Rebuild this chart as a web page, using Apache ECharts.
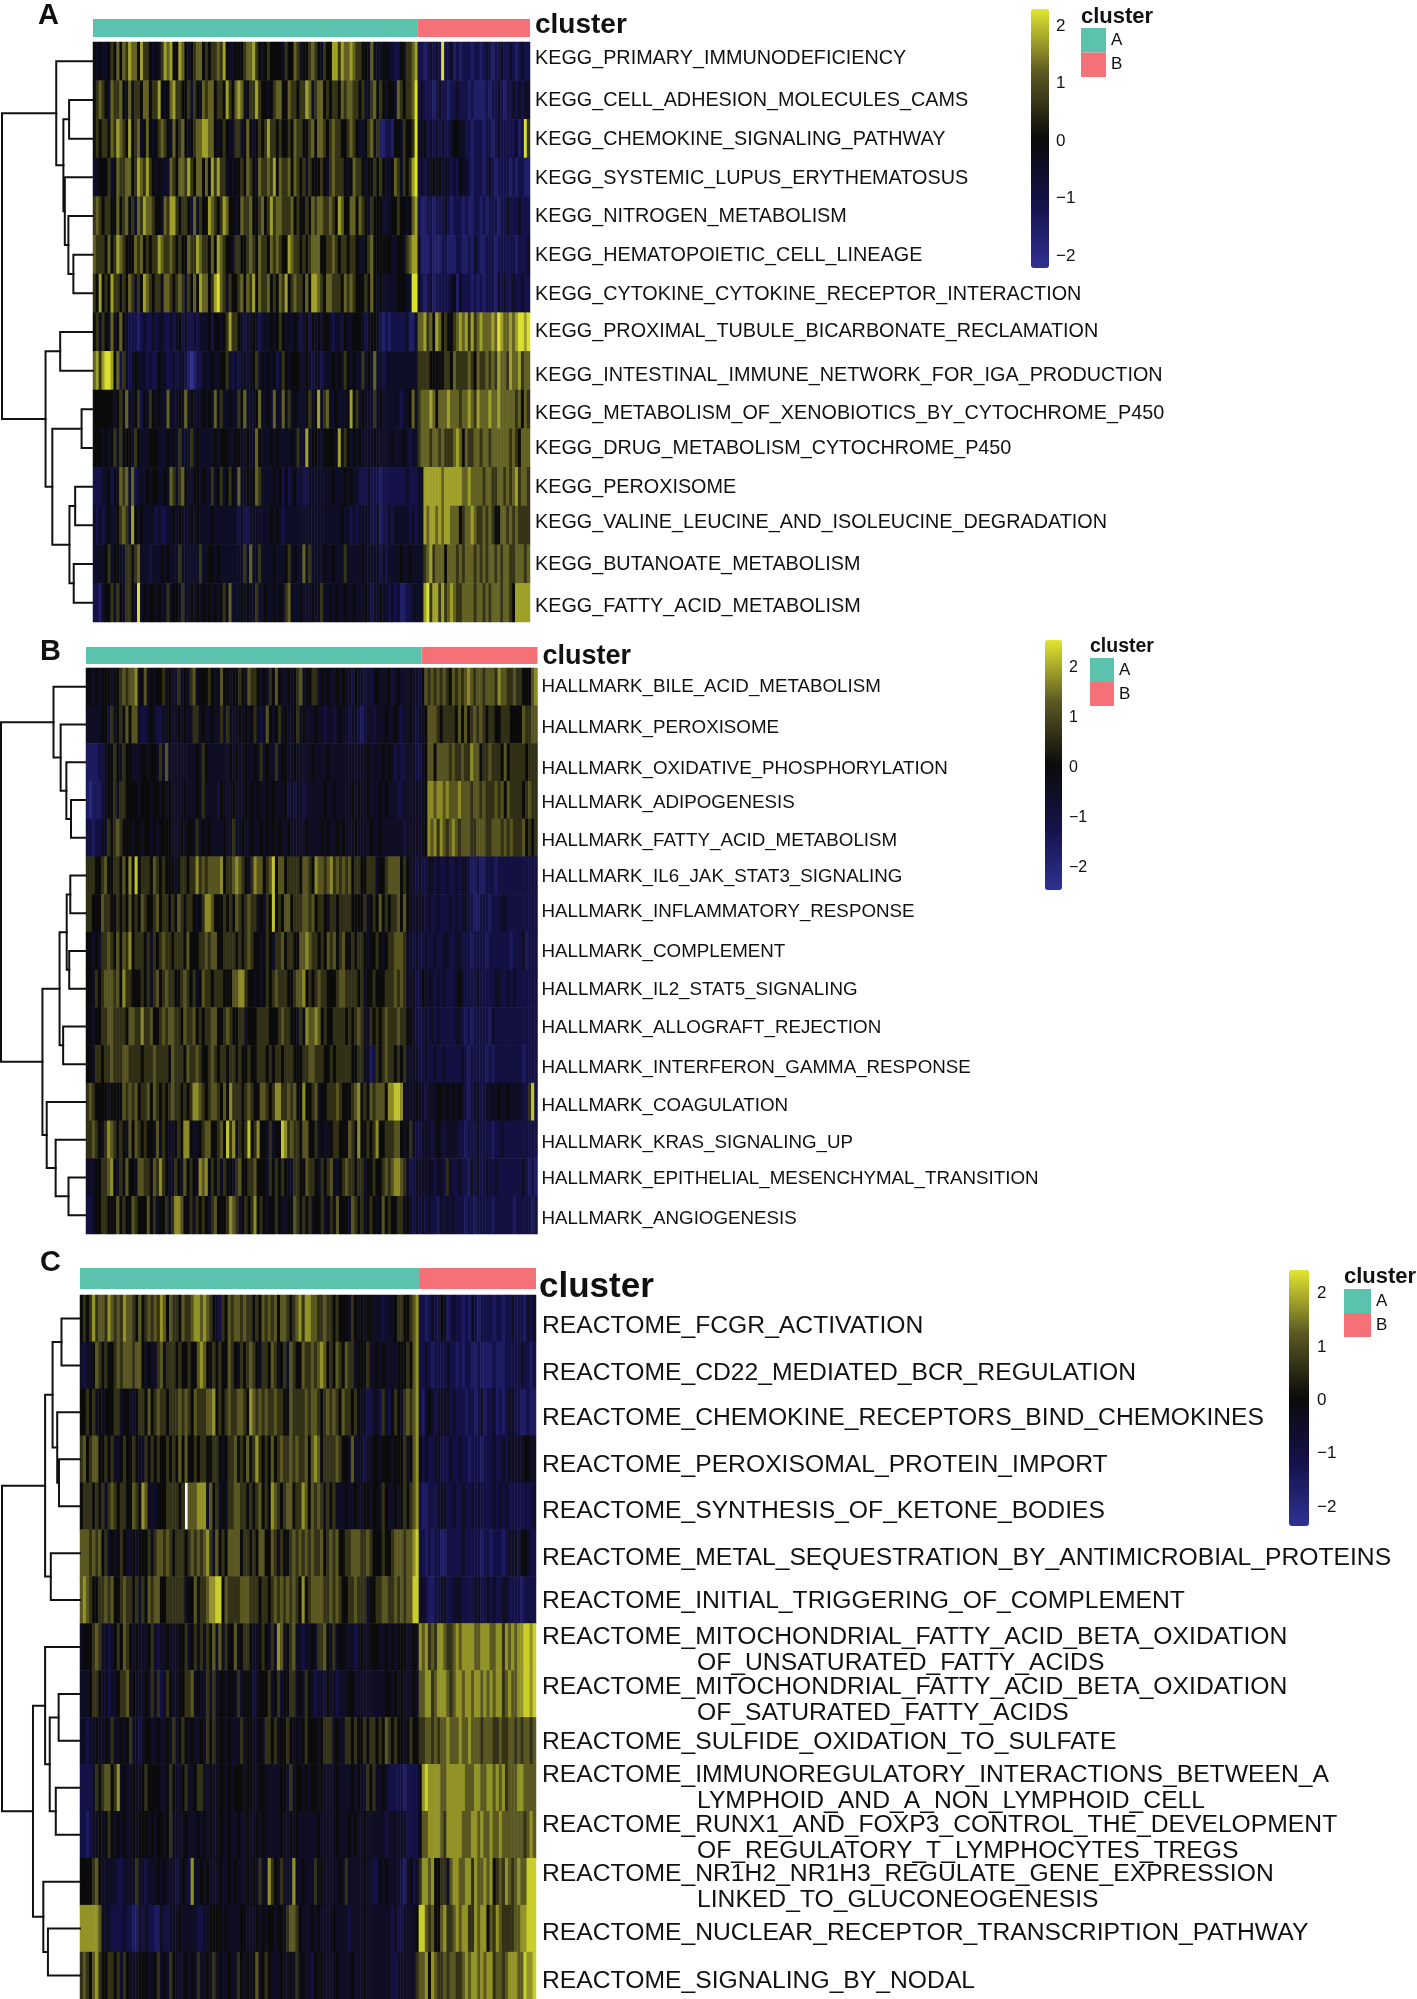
<!DOCTYPE html>
<html>
<head>
<meta charset="utf-8">
<title>cluster heatmaps</title>
<script src="https://cdn.jsdelivr.net/npm/echarts@6/dist/echarts.min.js"></script>
<style>
html,body{margin:0;padding:0;background:#fff;}
#main{width:1417px;height:1999px;}
</style>
</head>
<body>
<div id="main"></div>
<script>
// cell levels: 0 = strongest blue, 4 = black, 8 = strongest yellow, x = empty cell
var levelValues = [-2.2,-1.6,-1.1,-0.5,0,0.6,1.2,1.7,2.2];

var keggLabels = ['KEGG_PRIMARY_IMMUNODEFICIENCY','KEGG_CELL_ADHESION_MOLECULES_CAMS','KEGG_CHEMOKINE_SIGNALING_PATHWAY','KEGG_SYSTEMIC_LUPUS_ERYTHEMATOSUS','KEGG_NITROGEN_METABOLISM','KEGG_HEMATOPOIETIC_CELL_LINEAGE','KEGG_CYTOKINE_CYTOKINE_RECEPTOR_INTERACTION','KEGG_PROXIMAL_TUBULE_BICARBONATE_RECLAMATION','KEGG_INTESTINAL_IMMUNE_NETWORK_FOR_IGA_PRODUCTION','KEGG_METABOLISM_OF_XENOBIOTICS_BY_CYTOCHROME_P450','KEGG_DRUG_METABOLISM_CYTOCHROME_P450','KEGG_PEROXISOME','KEGG_VALINE_LEUCINE_AND_ISOLEUCINE_DEGRADATION','KEGG_BUTANOATE_METABOLISM','KEGG_FATTY_ACID_METABOLISM'];
var keggA = [
'4343345464 6576647554 3435767447 6434566454 5565743344 4566754345 4444354465 3445654354 4775766765 5443633344 3322435567',
'4565436556 4363554664 5574346755 4453543656 6455475467 6345575443 4566446554 5576356645 4554656655 4533564543 4436545568',
'4545546576 5474563464 3456543645 6434566776 6434543355 3464345457 5545445465 5445646654 5655445654 3345635112 2144354458',
'3344453465 5664576575 4343336546 6575466464 7575534344 5465436556 5746556465 4535444543 5655543465 5434454543 3465354578',
'5654554464 5645365766 5443657754 5543635447 6545764434 6556445645 7566555645 4454656655 6547644664 6543544433 3445443467',
'6555464576 5444656454 5576556545 4465576554 6476544355 4456546554 6565447655 4545666445 5654554554 3345644444 4334435677',
'5474547554 5465354765 4553665456 5354647664 5786535445 6465746556 4546574565 5464776546 6555465654 4454643433 3334443388',
'4535436346 4322212322 3233223234 2322323334 2443457554 3233432333 4345433343 2342434344 3233243344 4323443212 1222223113',
'6757887462 5323433323 2243322323 3210122333 4334453232 3333453434 3423543444 3343233233 3434354343 3534363323 3333333333',
'4444444345 4633452435 4343363334 3634333434 3635334335 4633346334 3633635343 3345347356 3343334745 3433353433 3333233463',
'4443434535 4443543334 4433343435 3335343333 3434443344 3343364333 4343333435 3373443344 4437354343 4333343333 3433343233',
'2223342436 5636233343 4433436535 6433443433 5345345436 3343465333 3434242342 3223333333 3433343433 2223222122 2222223222',
'3232343345 6537434333 3232233434 3334343333 4333333332 3223333333 4343233333 3333333333 3333433232 3333223122 3233333232',
'3333453443 3553563332 3334343335 3333335334 4343333333 3536335333 3433345343 3635333343 3433353333 3433333232 3333433433',
'2213445354 3554383434 4343353443 5334343434 3434536333 4343353343 3434356333 4333433533 4343343343 3343233433 2323112233'
];
var keggB = [
'2212323282 2312122212 2123212232 23212322',
'2322212322 1223222121 1112122321 22323233',
'3342323232 2344332212 2212212322 22231285',
'2323343433 3232433212 2212321222 21212211',
'2112212223 2122212112 2121222122 32223222',
'3111211122 1112211213 2112221222 22212223',
'3212312222 2341322212 1212221323 22322322',
'6675647645 4456767575 6766676876 67678878',
'5555444445 5465555654 6556565766 57667566',
'5666764666 7666566765 7666766766 66656465',
'5666566565 5567646556 6566566666 65654666',
'3377777767 7777766766 6656655665 65675665',
'3376776767 7666456676 5565654466 56565555',
'3356756664 6665656665 6565665656 65566656',
'3378577575 6765566665 6656566656 65477777'
];
// merges: [child, child, height]; negative = row number, positive = earlier merge number
var keggMerge = [[-6,-7,55],[-5,1,69],[-2,-3,67],[-4,2,79],[3,4,83],[-1,5,103],[-8,-9,92],[-10,-11,32],[-12,-13,50],[-14,-15,54],[9,10,66],[8,11,114],[7,12,133],[6,13,255]];

var hallmarkLabels = ['HALLMARK_BILE_ACID_METABOLISM','HALLMARK_PEROXISOME','HALLMARK_OXIDATIVE_PHOSPHORYLATION','HALLMARK_ADIPOGENESIS','HALLMARK_FATTY_ACID_METABOLISM','HALLMARK_IL6_JAK_STAT3_SIGNALING','HALLMARK_INFLAMMATORY_RESPONSE','HALLMARK_COMPLEMENT','HALLMARK_IL2_STAT5_SIGNALING','HALLMARK_ALLOGRAFT_REJECTION','HALLMARK_INTERFERON_GAMMA_RESPONSE','HALLMARK_COAGULATION','HALLMARK_KRAS_SIGNALING_UP','HALLMARK_EPITHELIAL_MESENCHYMAL_TRANSITION','HALLMARK_ANGIOGENESIS'];
var hallmarkA = [
'4434344434 4565667346 3434453433 5343563444 5433644344 5436554343 5464334345 6344553434 3343433243 3232343334 2343334332',
'3333344253 4546466322 3432233433 4343355343 3433535333 4343453236 4345343345 3433343323 3234332332 1233233343 3432334323',
'1111223445 4354433344 3443536333 3333334354 3333333434 3343343534 3353443343 3333433334 3333333333 3343333434 3232233322',
'1011123445 3554444344 4344343433 3343334353 3332433343 3343434334 3433342323 3233333343 3433333434 3343334343 3322333333',
'2212233545 6544434434 4343444433 3434435343 4333343353 3433433434 3434334333 3343333434 3343433343 3334334333 3333233333',
'5554456445 5464748455 5465454443 4554557565 6666745567 6543576645 6846645555 4665476656 7565656455 4455534456 6664543323',
'5544465544 5454645465 4456455454 6545543457 7644454546 5456553435 4845466455 5665645543 5545555444 4534546454 5564643333',
'4434355654 6465745554 5354565545 5546444556 5664455554 5456544345 4355645544 6676554546 5645644545 5434454345 5666533232',
'4435456665 6475544454 5356456554 4565453465 5455544466 7754434345 4565554456 6745456554 4456655554 5344544455 5656533322',
'4434455665 5554665575 5644565665 5465564545 5664456544 5534445555 4445655443 5476676454 4555545456 5335454565 5565544322',
'4435545565 5566555545 5565555465 5546556544 5654554554 5445445554 5455455544 4556655544 5455555445 5331254565 5454533332',
'5654444344 4465656455 6465454565 5454577654 5665464755 5456544665 4577556564 4744563445 5565444567 4546566647 7887333343',
'5565435765 4543646545 4436354334 5477433456 6445648573 5458457443 5344875655 4664453433 4554446547 4454574455 5664345322',
'3334455674 3546443665 5465754335 4364543767 4545354435 6445564443 5454543355 4465543545 6334565545 5344544565 6776532233',
'2234455444 6454465444 6453445357 7644535454 3564445765 3454574543 4454334465 4545344534 5364443654 5345434645 4455343232'
];
var hallmarkB = [
'4656565654 6565676566 5666576655 65544467',
'3466654555 5464645656 5455445554 44465566',
'3466466665 6556557664 5565554645 55554555',
'3477677676 6676665665 6555656465 55545655',
'3476757656 7656665566 6556665656 55564545',
'2233232232 2323321121 1222122222 22222222',
'3232232223 2323322112 2212223322 22222222',
'2322322332 2332221222 2122222221 22231222',
'4333232322 2343222232 2222332232 32222222',
'2323232222 2332121222 2213222222 22222222',
'2322322322 2223212222 2121222222 22212222',
'3233344343 4343212332 2333343343 33322582',
'3332343233 3322122232 2221223222 22222222',
'3333233253 2232213232 2322322222 22232121',
'3232213232 3222122122 2221222222 12222212'
];
var hallmarkMerge = [[-4,-5,42],[-3,1,55],[-2,2,71],[-1,3,91],[-6,-7,44],[-8,-9,47],[5,6,54],[-10,-11,64],[7,8,74],[-14,-15,49],[-13,10,85],[-12,11,110],[9,12,122],[4,13,238]];

var reactomeLabels = ['REACTOME_FCGR_ACTIVATION','REACTOME_CD22_MEDIATED_BCR_REGULATION','REACTOME_CHEMOKINE_RECEPTORS_BIND_CHEMOKINES','REACTOME_PEROXISOMAL_PROTEIN_IMPORT','REACTOME_SYNTHESIS_OF_KETONE_BODIES','REACTOME_METAL_SEQUESTRATION_BY_ANTIMICROBIAL_PROTEINS','REACTOME_INITIAL_TRIGGERING_OF_COMPLEMENT','REACTOME_MITOCHONDRIAL_FATTY_ACID_BETA_OXIDATION\nOF_UNSATURATED_FATTY_ACIDS','REACTOME_MITOCHONDRIAL_FATTY_ACID_BETA_OXIDATION\nOF_SATURATED_FATTY_ACIDS','REACTOME_SULFIDE_OXIDATION_TO_SULFATE','REACTOME_IMMUNOREGULATORY_INTERACTIONS_BETWEEN_A\nLYMPHOID_AND_A_NON_LYMPHOID_CELL','REACTOME_RUNX1_AND_FOXP3_CONTROL_THE_DEVELOPMENT\nOF_REGULATORY_T_LYMPHOCYTES_TREGS','REACTOME_NR1H2_NR1H3_REGULATE_GENE_EXPRESSION\nLINKED_TO_GLUCONEOGENESIS','REACTOME_NUCLEAR_RECEPTOR_TRANSCRIPTION_PATHWAY','REACTOME_SIGNALING_BY_NODAL'];
var reactomeA = [
'4545756657 6565766546 4565657646 5546556776 7654325465 6656554546 5656466545 6757766556 5545444354 3434433323 3345544567',
'3233465454 4565666566 4343356355 5454454467 6445454465 4354565435 5465345365 4465565676 4546546553 4445334343 3334445467',
'4454534344 4553443345 5464565545 5565654655 5667454565 5665476565 6556554465 5556566545 6565465545 4332233253 2454356567',
'5645664454 5334544543 3545454454 5464644545 5445543455 6354645754 5464565565 6556467645 5556544363 3323344344 4344453467',
'4555454535 6545544654 7633344455 5545x66677 7364534355 6655454564 5476545664 5576465653 5453334334 3344344354 3343454567',
'6665656453 4345433434 4453566565 4555456565 6753645466 6645545466 4465354456 5656565564 5656445566 6556544454 4566656678',
'6765445565 6445655453 5465664455 5555344635 5677884655 5566655545 5456565656 5474566665 5656544556 5553445566 5565656688',
'3444565332 3454654343 3345323343 3344534535 3546363544 6345543345 4353763456 3323343556 4353443332 3433444334 3434443343',
'3334554332 3345563433 3435352354 3344556343 3535344344 3534442344 4534534455 3435432332 4332333443 3333333334 4343433343',
'3323343343 5334345332 3443343343 5345434334 3545344343 3353443343 5545344543 4345444345 5534335545 4454554546 5454434544',
'2222354566 4573433433 4544443345 4334533455 3343344343 4443443344 3333344353 4434344343 3334333343 4335453343 2222212222',
'2212334345 4343433434 4434344345 3333433343 4343344343 3433433434 3333343343 4333333433 3334333434 3343333332 3333332222',
'4444564333 3322333353 3233343433 3234327334 3433343343 4333434353 3754353337 3343335343 3333435333 3343322434 3333213423',
'7777776333 2222322113 2322113223 3343333322 3344443433 3344333434 3443443566 5433343433 3343333233 3343333333 3232233334',
'5654675445 5453543334 4433453435 4333434353 3435343343 3543434634 5433343343 5343324343 3334333343 3343333333 3223333335'
];
var reactomeB = [
'2212322431 2322121321 2222122122 32221323',
'2232122223 2212122112 1111211122 22232212',
'2134323333 2322212212 3122312123 32211211',
'4232233222 3223221222 1222322323 33334433',
'2112223332 2322322323 2222323232 22222223',
'2212122112 2222322222 1221222123 33244322',
'3321122332 2333222233 2232322332 22212222',
'7675657765 5676777766 7776677576 76778878',
'6677567776 5677677677 6767677567 66778878',
'5566565667 6667667666 5666556556 65656656',
'4787777667 7777766677 6677676756 66776666',
'4667777657 7777666776 7667667666 66665676',
'5776744553 6776677576 6767456576 56766888',
'8865644675 5676775576 7746576555 56677888',
'6674765565 6655676776 7677566567 77668778'
];
var reactomeMerge = [[-1,-2,52],[-4,-5,59],[-3,2,64],[1,3,77],[-6,-7,82],[4,5,98],[-9,-10,60],[-11,-12,68],[7,8,85],[-8,9,98],[-14,-15,90],[-13,11,103],[10,12,132],[6,13,219]];

var tickValues = [-2,-1,0,1,2];
var colorStops = ['#2e3192','#14124a','#0b0b0b','#5a5722','#e1e62f'];
var teal = '#5bc2ae', salmon = '#f47178';
var fontName = '"Liberation Sans", Arial, sans-serif';

var panels = [
  {tag:'A',labels:keggLabels,a:keggA,b:keggB,merge:keggMerge,
   left:93,width:437,annTop:19,annH:18,top:42,height:580,dendLeft:2,labelFont:19.8,labelMargin:5,clusterFont:28,clusterMargin:5,clusterNudge:-3,
   labelNudge:[-3,1,1,1,1,1,1,0,5,4,1,1,-3,1,4],
   range:2.25,barLeft:1031,barTop:9,barW:18,barH:259,tickFont:17,tickMargin:7,
   legLeft:1081,legTop:28,legW:25,legH:24.5,legFont:17,legTitleTop:6,legTitleFont:22,tagLeft:38,tagTop:1},
  {tag:'B',labels:hallmarkLabels,a:hallmarkA,b:hallmarkB,merge:hallmarkMerge,
   left:86,width:451.5,annTop:647,annH:17,top:668,height:566,dendLeft:1,labelFont:18.75,labelMargin:4,clusterFont:27,clusterMargin:5,clusterNudge:1,
   labelNudge:[0,3,6,3,3,1,-1,1,1,1,4,4,3,1,4],
   range:2.5,barLeft:1045,barTop:640,barW:17,barH:250,tickFont:16,tickMargin:7,
   legLeft:1090,legTop:658,legW:24,legH:24,legFont:17,legTitleTop:637,legTitleFont:19.5,tagLeft:40,tagTop:637},
  {tag:'C',labels:reactomeLabels,a:reactomeA,b:reactomeB,merge:reactomeMerge,
   left:80,width:456,annTop:1268,annH:21,top:1295,height:704,dendLeft:2,labelFont:24.7,labelMargin:6,clusterFont:35,clusterMargin:3,clusterNudge:9,
   labelNudge:[8,8,6,6,5,5,1,3,6,1,0,3,6,5,6],
   range:2.4,barLeft:1289,barTop:1270,barW:20,barH:256,tickFont:17,tickMargin:8,
   legLeft:1344,legTop:1289,legW:27,legH:24,legFont:17,legTitleTop:1266,legTitleFont:22,tagLeft:40,tagTop:1248}
];

var grid = [], xAxis = [], yAxis = [], series = [], visualMap = [], legend = [], title = [];

function hidden(o){
  o.axisLine = {show:false}; o.axisTick = {show:false}; o.splitLine = {show:false};
  if(!o.axisLabel) o.axisLabel = {show:false};
  return o;
}
function addGrid(l,t,w,h,xa,ya){
  grid.push({left:l,top:t,width:w,height:h,containLabel:false});
  xa.gridIndex = ya.gridIndex = grid.length-1;
  xAxis.push(xa); yAxis.push(ya);
  return grid.length-1;
}
function digits(s){ return s.replace(/ /g,''); }
// moves a rich text token up or down by d px
function nudge(d){ return [Math.max(2*d,0),0,Math.max(-2*d,0),0]; }

panels.forEach(function(p){
  var rowsA = p.a.map(digits), rowsB = p.b.map(digits);
  var nA = Math.min.apply(null,rowsA.map(function(r){return r.length;}));
  var nB = Math.min.apply(null,rowsB.map(function(r){return r.length;}));
  var cols = [], i;
  for(i=0;i<nA+nB;i++) cols.push(i);

  // heatmap
  var cells = [];
  rowsA.forEach(function(r,y){
    var row = r.slice(0,nA)+rowsB[y].slice(0,nB);
    for(var x=0;x<row.length;x++){
      if(row[x]!=='x') cells.push([x,y,levelValues[parseInt(row[x],10)]]);
    }
  });
  var rich = {p:{width:155,lineHeight:26}};
  p.labelNudge.forEach(function(d,k){
    rich['t'+k] = {fontFamily:fontName,fontSize:p.labelFont,color:'#111',lineHeight:26,padding:nudge(d)};
  });
  var g = addGrid(p.left,p.top,p.width,p.height,
    hidden({type:'category',data:cols}),
    hidden({type:'category',data:p.labels,inverse:true,position:'right',
      axisLabel:{show:true,interval:0,margin:p.labelMargin,fontFamily:fontName,fontSize:p.labelFont,color:'#111',
        formatter:function(v,k){
          var parts = v.split('\n'), t = 't'+k;
          return parts.length==1 ? '{'+t+'|'+v+'}' : '{'+t+'|'+parts[0]+'}\n{p| }{'+t+'|'+parts[1]+'}';
        },
        rich:rich}}));
  series.push({type:'heatmap',xAxisIndex:g,yAxisIndex:g,data:cells,silent:true,progressive:0,animation:false,emphasis:{disabled:true}});
  visualMap.push({type:'continuous',seriesIndex:series.length-1,min:-p.range,max:p.range,calculable:false,
    inRange:{color:colorStops},left:p.barLeft,top:p.barTop,itemWidth:p.barW,itemHeight:p.barH,padding:0,text:null,hoverLink:false});

  // cluster annotation bar
  g = addGrid(p.left,p.annTop,p.width,p.annH,
    hidden({type:'value',min:0,max:nA+nB}),
    hidden({type:'category',data:['cluster'],position:'right',
      axisLabel:{show:true,margin:p.clusterMargin,formatter:'{c|{value}}',
        rich:{c:{fontFamily:fontName,fontSize:p.clusterFont,fontWeight:'bold',color:'#111',padding:nudge(p.clusterNudge)}}}}));
  series.push({type:'bar',name:'A',stack:'ann'+p.tag,xAxisIndex:g,yAxisIndex:g,data:[nA],barWidth:'100%',itemStyle:{color:teal},silent:true,animation:false});
  series.push({type:'bar',name:'B',stack:'ann'+p.tag,xAxisIndex:g,yAxisIndex:g,data:[nB],barWidth:'100%',itemStyle:{color:salmon},silent:true,animation:false});

  // row dendrogram
  var maxH = p.merge[p.merge.length-1][2];
  g = addGrid(p.dendLeft,p.top,p.left-p.dendLeft,p.height,
    hidden({type:'value',min:0,max:maxH,inverse:true}),
    hidden({type:'value',min:0,max:p.labels.length,inverse:true}));
  var nodes = [];
  function node(id){ return id<0 ? {h:0,y:-id-0.5} : nodes[id-1]; }
  p.merge.forEach(function(m){
    var c1 = node(m[0]), c2 = node(m[1]);
    series.push({type:'line',xAxisIndex:g,yAxisIndex:g,showSymbol:false,silent:true,animation:false,clip:false,
      lineStyle:{color:'#111',width:2,cap:'square',join:'miter'},
      data:[[c1.h,c1.y],[m[2],c1.y],[m[2],c2.y],[c2.h,c2.y]]});
    nodes.push({h:m[2],y:(c1.y+c2.y)/2});
  });

  // colour bar tick labels, the printed ticks sit slightly below the bar's centre
  addGrid(p.barLeft,p.barTop,p.barW,p.barH,
    hidden({type:'value',min:0,max:1}),
    hidden({type:'value',min:-p.range+0.045,max:p.range+0.045,position:'right',
      axisLabel:{show:true,customValues:tickValues,margin:p.tickMargin,fontFamily:fontName,fontSize:p.tickFont,color:'#111',
        formatter:function(v){ return String(v).replace('-','\u2212'); }}}));

  legend.push({orient:'vertical',left:p.legLeft,top:p.legTop,padding:0,itemGap:0,itemWidth:p.legW,itemHeight:p.legH,
    icon:'rect',selectedMode:false,data:['A','B'],textStyle:{fontFamily:fontName,fontSize:p.legFont,color:'#111'}});
  title.push({text:'cluster',left:p.legLeft,top:p.legTitleTop,padding:0,textStyle:{fontFamily:fontName,fontSize:p.legTitleFont,fontWeight:'bold',color:'#111'}});
  title.push({text:p.tag,left:p.tagLeft,top:p.tagTop,padding:0,textStyle:{fontFamily:fontName,fontSize:29,fontWeight:'bold',color:'#111'}});
});

var Mychart = echarts.init(document.getElementById('main'),null,{renderer:'canvas'});
Mychart.setOption({
  animation:false,
  backgroundColor:'#fff',
  title:title,
  legend:legend,
  grid:grid,
  xAxis:xAxis,
  yAxis:yAxis,
  visualMap:visualMap,
  series:series
});
</script>
</body>
</html>
